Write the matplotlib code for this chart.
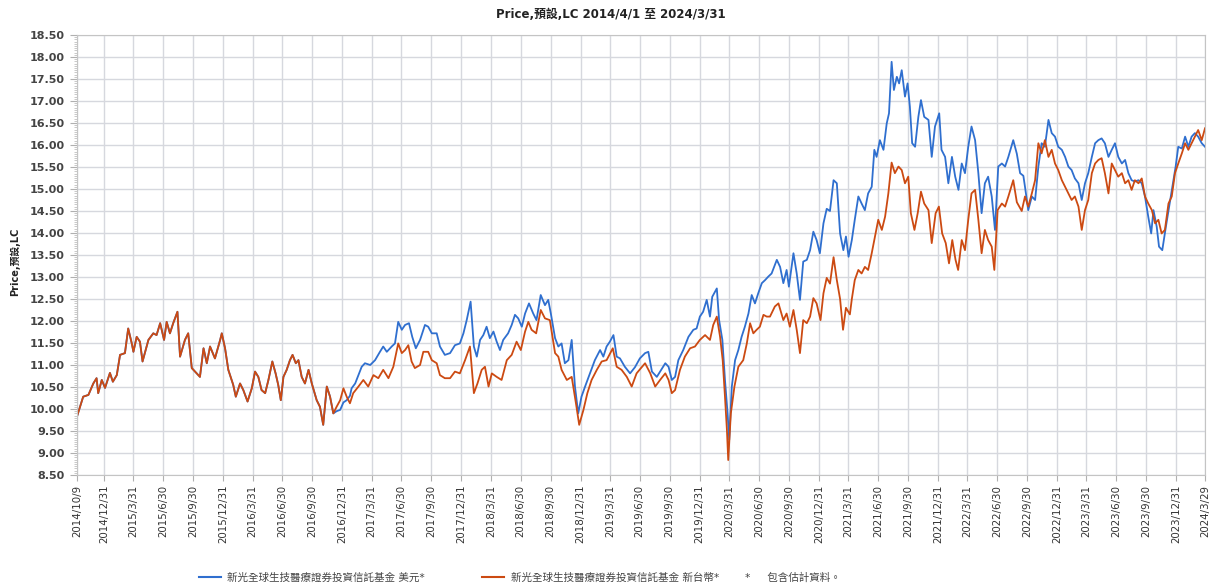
import numpy as np
import pandas as pd
import matplotlib
matplotlib.use("Agg")
import matplotlib.pyplot as plt
import matplotlib.dates as mdates
from matplotlib.ticker import MultipleLocator, FormatStrFormatter
from matplotlib.lines import Line2D

# latin text in DejaVu, chinese falls through to Noto CJK
plt.rcParams['font.family'] = ['DejaVu Sans', 'Noto Sans CJK TC']

# Data (days counted from the first date on the axis)
start_date = "2014-10-09"

# both share classes sit on top of each other until late 2016
common_days = [0, 19, 35, 50, 60, 65, 76, 86, 101, 110, 122, 132, 147, 157, 168, 173,
               183, 193, 201, 219, 234, 244, 255, 267, 275, 285, 295, 308, 316, 331, 341,
               352, 367, 377, 388, 398, 408, 423, 439, 444, 454, 464, 479, 487, 500, 510,
               523, 536, 546, 556, 566, 577, 587, 599, 609, 617, 625, 633, 643, 653, 661,
               671, 679, 689, 699, 710, 720, 735, 745, 755, 766, 776, 786]
common_prices = [9.83, 10.28, 10.32, 10.58, 10.70, 10.36, 10.66, 10.48, 10.82, 10.62, 10.77,
                 11.23, 11.27, 11.83, 11.49, 11.30, 11.64, 11.53, 11.08, 11.57, 11.72, 11.68,
                 11.95, 11.57, 11.98, 11.72, 11.95, 12.21, 11.19, 11.57, 11.72, 10.93, 10.81,
                 10.73, 11.38, 11.04, 11.42, 11.15, 11.57, 11.72, 11.38, 10.89, 10.55, 10.28,
                 10.58, 10.43, 10.17, 10.47, 10.85, 10.73, 10.43, 10.36, 10.66, 11.08, 10.81,
                 10.55, 10.20, 10.73, 10.89, 11.11, 11.23, 11.04, 11.11, 10.73, 10.58, 10.89,
                 10.58, 10.20, 10.05, 9.64, 10.51, 10.28, 9.90]

usd_days = [796, 807, 817, 827, 837, 842, 853, 873, 883, 899, 914, 929, 939, 950, 965, 975,
            985, 996, 1006, 1018, 1028, 1039, 1052, 1067, 1077, 1088, 1103, 1113, 1128, 1144,
            1159, 1174, 1185, 1195, 1207, 1217, 1226, 1236, 1246, 1256, 1266, 1277, 1287,
            1297, 1307, 1322, 1333, 1343, 1353, 1364, 1374, 1386, 1399, 1409, 1422, 1435,
            1445, 1453, 1466, 1476, 1486, 1496, 1507, 1517, 1527, 1537, 1547, 1558, 1573,
            1588, 1604, 1614, 1624, 1634, 1645, 1655, 1665, 1680, 1696, 1711, 1726, 1742,
            1752, 1763, 1778, 1788, 1804, 1814, 1824, 1834, 1844, 1859, 1875, 1890, 1900,
            1910, 1920, 1931, 1941, 1948, 1962, 1969, 1979, 1987, 1995, 2000, 2008, 2018,
            2028, 2038, 2048, 2059, 2069, 2079, 2089, 2100, 2110, 2120, 2130, 2146, 2156,
            2166, 2176, 2183, 2197, 2207, 2217, 2227, 2238, 2248, 2258, 2268, 2278, 2289,
            2299, 2309, 2320, 2330, 2340, 2350, 2358, 2366, 2376, 2385, 2396, 2406, 2416,
            2426, 2437, 2445, 2452, 2462, 2473, 2483, 2490, 2498, 2505, 2514, 2521, 2529,
            2539, 2547, 2554, 2561, 2570, 2580, 2588, 2598, 2611, 2621, 2631, 2644, 2651,
            2662, 2672, 2683, 2693, 2703, 2713, 2723, 2733, 2743, 2754, 2764, 2774, 2784,
            2794, 2805, 2815, 2825, 2836, 2846, 2856, 2871, 2882, 2892, 2902, 2907, 2917,
            2928, 2938, 2948, 2958, 2968, 2979, 2989, 2999, 3009, 3020, 3030, 3040, 3050,
            3060, 3071, 3081, 3091, 3101, 3112, 3122, 3132, 3142, 3152, 3163, 3173, 3183,
            3193, 3204, 3214, 3224, 3234, 3244, 3255, 3265, 3275, 3285, 3294, 3301, 3311,
            3318, 3328, 3339, 3349, 3359, 3369, 3377, 3388, 3398, 3408, 3418, 3428, 3438,
            3449, 3459]
usd_prices = [9.95, 9.98, 10.15, 10.20, 10.30, 10.47, 10.58, 10.96, 11.04, 11.00, 11.11,
              11.30, 11.42, 11.30, 11.42, 11.49, 11.98, 11.80, 11.91, 11.95, 11.64, 11.38,
              11.57, 11.91, 11.87, 11.72, 11.72, 11.42, 11.23, 11.27, 11.45, 11.49, 11.72,
              12.02, 12.44, 11.42, 11.19, 11.57, 11.68, 11.87, 11.61, 11.76, 11.53, 11.34,
              11.57, 11.72, 11.91, 12.14, 12.06, 11.87, 12.17, 12.40, 12.17, 12.02, 12.59,
              12.36, 12.48, 12.17, 11.61, 11.42, 11.49, 11.04, 11.11, 11.57, 10.51, 9.90,
              10.28, 10.51, 10.81, 11.11, 11.34, 11.19, 11.42, 11.53, 11.68, 11.19, 11.15,
              10.96, 10.81, 10.95, 11.15, 11.27, 11.30, 10.85, 10.73, 10.85, 11.04, 10.96,
              10.66, 10.73, 11.11, 11.34, 11.64, 11.80, 11.83, 12.10, 12.21, 12.48, 12.10,
              12.55, 12.74, 12.02, 11.57, 10.66, 9.90, 9.30, 10.51, 11.11, 11.34, 11.64,
              11.87, 12.17, 12.59, 12.40, 12.63, 12.86, 12.93, 13.01, 13.08, 13.39, 13.23,
              12.86, 13.16, 12.78, 13.54, 13.08, 12.48, 13.35, 13.39, 13.61, 14.03, 13.84,
              13.54, 14.22, 14.55, 14.50, 15.20, 15.13, 13.99, 13.61, 13.92, 13.46, 13.84,
              14.30, 14.83, 14.67, 14.52, 14.90, 15.05, 15.89, 15.73, 16.11, 15.89, 16.49,
              16.72, 17.89, 17.25, 17.55, 17.40, 17.70, 17.10, 17.40, 16.87, 16.04, 15.96,
              16.64, 17.02, 16.64, 16.57, 15.73, 16.42, 16.72, 15.89, 15.73, 15.13, 15.73,
              15.28, 14.98, 15.58, 15.36, 15.96, 16.42, 16.11, 15.36, 14.45, 15.13, 15.28,
              14.83, 14.07, 15.51, 15.58, 15.51, 15.73, 16.11, 15.80, 15.36, 15.30, 15.05,
              14.52, 14.83, 14.75, 15.51, 16.04, 15.96, 16.57, 16.27, 16.19, 15.96, 15.89,
              15.73, 15.51, 15.43, 15.24, 15.13, 14.75, 15.13, 15.36, 15.73, 16.04, 16.11,
              16.15, 16.04, 15.73, 15.89, 16.04, 15.73, 15.58, 15.66, 15.36, 15.20, 15.17,
              15.20, 15.13, 14.83, 14.37, 13.99, 14.52, 14.14, 13.69, 13.61, 14.14, 14.60,
              15.05, 15.51, 15.96, 15.92, 16.19, 15.96, 16.19, 16.27, 16.19, 16.04, 15.96]

twd_days = [796, 807, 817, 827, 837, 847, 863, 878, 893, 909, 924, 939, 955, 970, 985, 996,
            1006, 1016, 1026, 1036, 1052, 1062, 1077, 1088, 1103, 1113, 1128, 1144, 1159,
            1174, 1190, 1205, 1217, 1228, 1241, 1251, 1262, 1272, 1287, 1302, 1318, 1333,
            1348, 1361, 1374, 1384, 1394, 1408, 1422, 1435, 1450, 1466, 1476, 1486, 1502,
            1517, 1530, 1540, 1553, 1565, 1578, 1594, 1609, 1624, 1643, 1655, 1670, 1686,
            1701, 1716, 1726, 1742, 1758, 1773, 1788, 1804, 1814, 1824, 1834, 1849, 1864,
            1880, 1895, 1910, 1926, 1941, 1951, 1962, 1972, 1980, 1987, 1993, 1997, 2005,
            2016, 2028, 2043, 2054, 2064, 2074, 2084, 2094, 2105, 2115, 2125, 2140, 2151,
            2166, 2176, 2186, 2197, 2207, 2217, 2227, 2238, 2248, 2258, 2268, 2280, 2289,
            2299, 2309, 2320, 2330, 2340, 2349, 2358, 2370, 2376, 2385, 2396, 2406, 2416,
            2426, 2437, 2447, 2457, 2468, 2478, 2488, 2498, 2508, 2519, 2529, 2539, 2549,
            2557, 2568, 2578, 2588, 2598, 2611, 2621, 2633, 2643, 2653, 2664, 2674, 2684,
            2694, 2702, 2713, 2723, 2733, 2743, 2754, 2764, 2774, 2784, 2794, 2805, 2813,
            2823, 2836, 2846, 2856, 2871, 2882, 2897, 2907, 2917, 2928, 2938, 2948, 2958,
            2968, 2979, 2989, 2999, 3009, 3020, 3030, 3040, 3050, 3060, 3071, 3081, 3091,
            3101, 3112, 3122, 3132, 3142, 3152, 3163, 3173, 3183, 3193, 3204, 3214, 3224,
            3234, 3244, 3255, 3265, 3275, 3285, 3296, 3306, 3316, 3326, 3336, 3347, 3357,
            3367, 3377, 3388, 3398, 3408, 3418, 3428, 3438, 3449, 3459]
twd_prices = [10.05, 10.20, 10.47, 10.28, 10.13, 10.36, 10.51, 10.66, 10.51, 10.77, 10.70,
              10.89, 10.70, 10.96, 11.49, 11.27, 11.34, 11.45, 11.08, 10.93, 11.00, 11.30,
              11.30, 11.11, 11.04, 10.77, 10.70, 10.70, 10.85, 10.81, 11.11, 11.42, 10.36,
              10.58, 10.89, 10.96, 10.51, 10.81, 10.73, 10.66, 11.11, 11.23, 11.53, 11.34,
              11.76, 11.98, 11.80, 11.72, 12.25, 12.06, 12.02, 11.27, 11.19, 10.89, 10.66,
              10.73, 10.13, 9.64, 9.98, 10.36, 10.66, 10.89, 11.08, 11.11, 11.38, 10.96,
              10.89, 10.73, 10.51, 10.81, 10.90, 11.04, 10.81, 10.51, 10.66, 10.81, 10.66,
              10.36, 10.43, 10.89, 11.19, 11.38, 11.42, 11.57, 11.68, 11.57, 11.91, 12.10,
              11.64, 11.11, 10.28, 9.52, 8.84, 9.90, 10.51, 10.96, 11.11, 11.49, 11.95,
              11.72, 11.80, 11.87, 12.14, 12.10, 12.10, 12.33, 12.40, 12.02, 12.17, 11.87,
              12.25, 11.80, 11.27, 12.02, 11.95, 12.10, 12.52, 12.40, 12.02, 12.63, 12.98,
              12.85, 13.45, 12.93, 12.50, 11.80, 12.30, 12.15, 12.50, 12.93, 13.16, 13.08,
              13.23, 13.16, 13.54, 13.92, 14.30, 14.07, 14.37, 14.90, 15.60, 15.36, 15.51,
              15.43, 15.13, 15.28, 14.45, 14.07, 14.45, 14.94, 14.67, 14.52, 13.77, 14.45,
              14.60, 13.99, 13.77, 13.31, 13.84, 13.39, 13.16, 13.84, 13.61, 14.30, 14.90,
              14.98, 14.30, 13.54, 14.07, 13.84, 13.69, 13.16, 14.52, 14.67, 14.60, 14.83,
              15.20, 14.70, 14.50, 14.83, 14.60, 14.90, 15.20, 16.04, 15.81, 16.11, 15.73,
              15.89, 15.58, 15.43, 15.20, 15.05, 14.90, 14.75, 14.83, 14.60, 14.07, 14.52,
              14.75, 15.36, 15.58, 15.66, 15.70, 15.36, 14.90, 15.58, 15.43, 15.28, 15.36,
              15.13, 15.20, 14.98, 15.20, 15.13, 15.24, 14.83, 14.67, 14.52, 14.22, 14.30,
              13.99, 14.07, 14.67, 14.83, 15.36, 15.58, 15.81, 16.04, 15.89, 16.04, 16.19,
              16.34, 16.11, 16.38]

tick_dates = ["2014-10-09", "2014-12-31",
              "2015-03-31", "2015-06-30", "2015-09-30", "2015-12-31",
              "2016-03-31", "2016-06-30", "2016-09-30", "2016-12-31",
              "2017-03-31", "2017-06-30", "2017-09-30", "2017-12-31",
              "2018-03-31", "2018-06-30", "2018-09-30", "2018-12-31",
              "2019-03-31", "2019-06-30", "2019-09-30", "2019-12-31",
              "2020-03-31", "2020-06-30", "2020-09-30", "2020-12-31",
              "2021-03-31", "2021-06-30", "2021-09-30", "2021-12-31",
              "2022-03-31", "2022-06-30", "2022-09-30", "2022-12-31",
              "2023-03-31", "2023-06-30", "2023-09-30", "2023-12-31",
              "2024-03-29"]

usd_label = "新光全球生技醫療證券投資信託基金 美元*"
twd_label = "新光全球生技醫療證券投資信託基金 新台幣*"
note_text = "*     包含估計資料。"
title_text = "Price,預設,LC 2014/4/1 至 2024/3/31"
ylabel_text = "Price,預設,LC"

usd_color = "#2f6fcf"
twd_color = "#cc4a12"


def to_dates(days):
    return np.datetime64(start_date) + np.array(days).astype("timedelta64[D]")


usd_x = to_dates(common_days + usd_days)
usd_y = common_prices + usd_prices
twd_x = to_dates(common_days + twd_days)
twd_y = common_prices + twd_prices

ticks = pd.to_datetime(tick_dates)
tick_labels = [f"{t.year}/{t.month}/{t.day}" for t in ticks]

# Plot
fig = plt.figure(figsize=(12.21, 5.85), dpi=100)
ax = fig.add_axes([77 / 1221, 110 / 585, 1128 / 1221, 440 / 585])

ax.plot(usd_x, usd_y, color=usd_color, linewidth=1.3)
ax.plot(twd_x, twd_y, color=twd_color, linewidth=1.3)

ax.set_xlim(mdates.date2num(ticks[0]), mdates.date2num(ticks[-1]))
ax.set_xticks(mdates.date2num(ticks))
ax.set_xticklabels(tick_labels, rotation=90, fontsize=7.4, color="#333333")

ax.set_ylim(8.5, 18.5)
ax.yaxis.set_major_locator(MultipleLocator(0.5))
ax.yaxis.set_minor_locator(MultipleLocator(0.05))
ax.yaxis.set_major_formatter(FormatStrFormatter("%.2f"))
for lbl in ax.get_yticklabels():
    lbl.set_fontweight("bold")
ax.tick_params(axis="y", which="major", labelsize=8, labelcolor="#444444",
               length=5, color="#b0b0b0", pad=4)
ax.tick_params(axis="y", which="minor", length=2.5, color="#c0c0c0")
ax.tick_params(axis="x", length=4, color="#b0b0b0", pad=3)

ax.grid(True, which="major", color="#d6d8de", linewidth=1.0)
ax.set_axisbelow(True)
for s in ax.spines.values():
    s.set_color("#c4c4c4")

fig.text(0.5, 1 - 15 / 585, title_text, ha="center", va="center",
         fontsize=8.5, fontweight="bold", color="#222222")
fig.text(15 / 1221, 1 - 262 / 585, ylabel_text, rotation=90, ha="center",
         va="center", fontsize=7, fontweight="bold", color="#222222")

# legend along the bottom edge
handles = [Line2D([], [], color=usd_color, linewidth=1.5),
           Line2D([], [], color=twd_color, linewidth=1.5)]
fig.legend(handles, [usd_label, twd_label], loc="center left",
           bbox_to_anchor=(199 / 1221, 1 - 578 / 585), ncol=2, frameon=False,
           fontsize=7.6, handlelength=2.1, handletextpad=0.6, columnspacing=5.4,
           borderaxespad=0, borderpad=0, labelcolor="#444444")
fig.text(745 / 1221, 1 - 578 / 585, note_text, ha="left", va="center",
         fontsize=7.6, color="#444444")

fig.savefig("out.png", dpi=100)
